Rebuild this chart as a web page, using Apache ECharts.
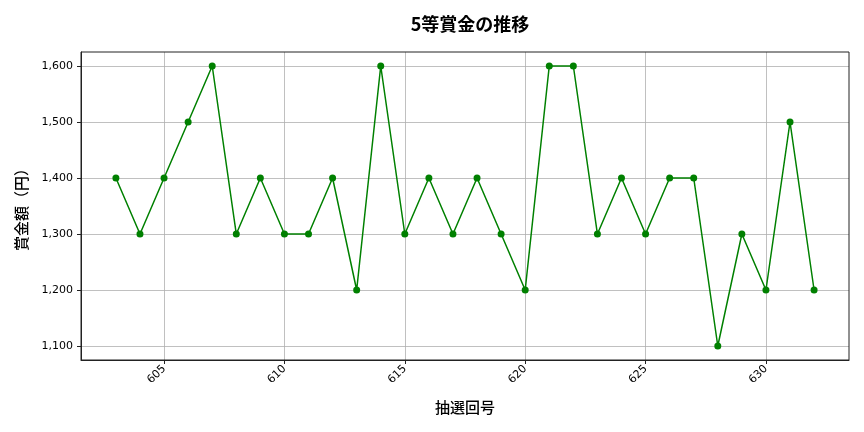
<!DOCTYPE html>
<html lang="ja">
<head>
<meta charset="UTF-8">
<title>5等賞金の推移</title>
<script src="https://cdn.jsdelivr.net/npm/echarts@6/dist/echarts.min.js"></script>
<style>
  html, body { margin: 0; padding: 0; background: #fff; }
  #main { width: 864px; height: 432px; }
</style>
</head>
<body>
<div id="main"></div>
<script>
// 抽選回号 と 5等賞金
var rounds = [603, 604, 605, 606, 607, 608, 609, 610, 611, 612,
              613, 614, 615, 616, 617, 618, 619, 620, 621, 622,
              623, 624, 625, 626, 627, 628, 629, 630, 631, 632];
var prizes = [1400, 1300, 1400, 1500, 1600, 1300, 1400, 1300, 1300, 1400,
              1200, 1600, 1300, 1400, 1300, 1400, 1300, 1200, 1600, 1600,
              1300, 1400, 1300, 1400, 1400, 1100, 1300, 1200, 1500, 1200];
var xTicks = [605, 610, 615, 620, 625, 630];
var yTicks = [1100, 1200, 1300, 1400, 1500, 1600];

var font = '"Noto Sans CJK JP", "DejaVu Sans", sans-serif';
var tickFont = '"DejaVu Sans", sans-serif';
var chart = echarts.init(document.getElementById('main'));

var points = [];
for (var i = 0; i < rounds.length; i++) {
  points.push([rounds[i], prizes[i]]);
}

chart.setOption({
  animation: false,
  textStyle: { fontFamily: font },
  title: {
    text: '5等賞金の推移',
    left: 465,
    top: 10,
    textAlign: 'center',
    textStyle: { fontFamily: font, fontSize: 18, fontWeight: 'bold', color: '#000' }
  },
  grid: { left: 81, right: 15, top: 52, bottom: 72 },
  xAxis: {
    type: 'value',
    min: 601.55,
    max: 633.45,
    name: '抽選回号',
    nameLocation: 'middle',
    nameGap: 40,
    nameTextStyle: { fontFamily: font, fontSize: 15, fontWeight: 500, color: '#000' },
    axisLine: { show: true, onZero: false, lineStyle: { color: '#222', width: 1 } },
    axisTick: { show: true, length: 4, customValues: xTicks, lineStyle: { color: '#222' } },
    axisLabel: { customValues: xTicks, rotate: 45, color: '#000', fontSize: 11, fontFamily: tickFont, margin: 7 },
    splitLine: { show: true, lineStyle: { color: '#b0b0b0', width: 0.8 } }
  },
  yAxis: {
    type: 'value',
    min: 1075,
    max: 1625,
    name: '賞金額（円）',
    nameLocation: 'middle',
    nameGap: 52,
    nameTextStyle: { fontFamily: font, fontSize: 15, fontWeight: 500, color: '#000' },
    axisLine: { show: true, lineStyle: { color: '#222', width: 1 } },
    axisTick: { show: true, length: 4, customValues: yTicks, lineStyle: { color: '#222' } },
    axisLabel: {
      customValues: yTicks,
      color: '#000',
      fontSize: 11,
      fontFamily: tickFont,
      formatter: function (v) { return v.toLocaleString('en-US'); }
    },
    splitLine: { show: true, lineStyle: { color: '#b0b0b0', width: 0.8 } }
  },
  series: [{
    type: 'line',
    data: points,
    symbol: 'circle',
    symbolSize: 7,
    lineStyle: { color: '#008000', width: 1.5 },
    itemStyle: { color: '#008000' }
  }]
});
// 枠線（右・上）
chart.setOption({
  graphic: [{
    type: 'rect',
    shape: { x: 81, y: 52, width: 768, height: 308 },
    style: { fill: 'none', stroke: '#222', lineWidth: 1 },
    silent: true
  }]
});
</script>
</body>
</html>
